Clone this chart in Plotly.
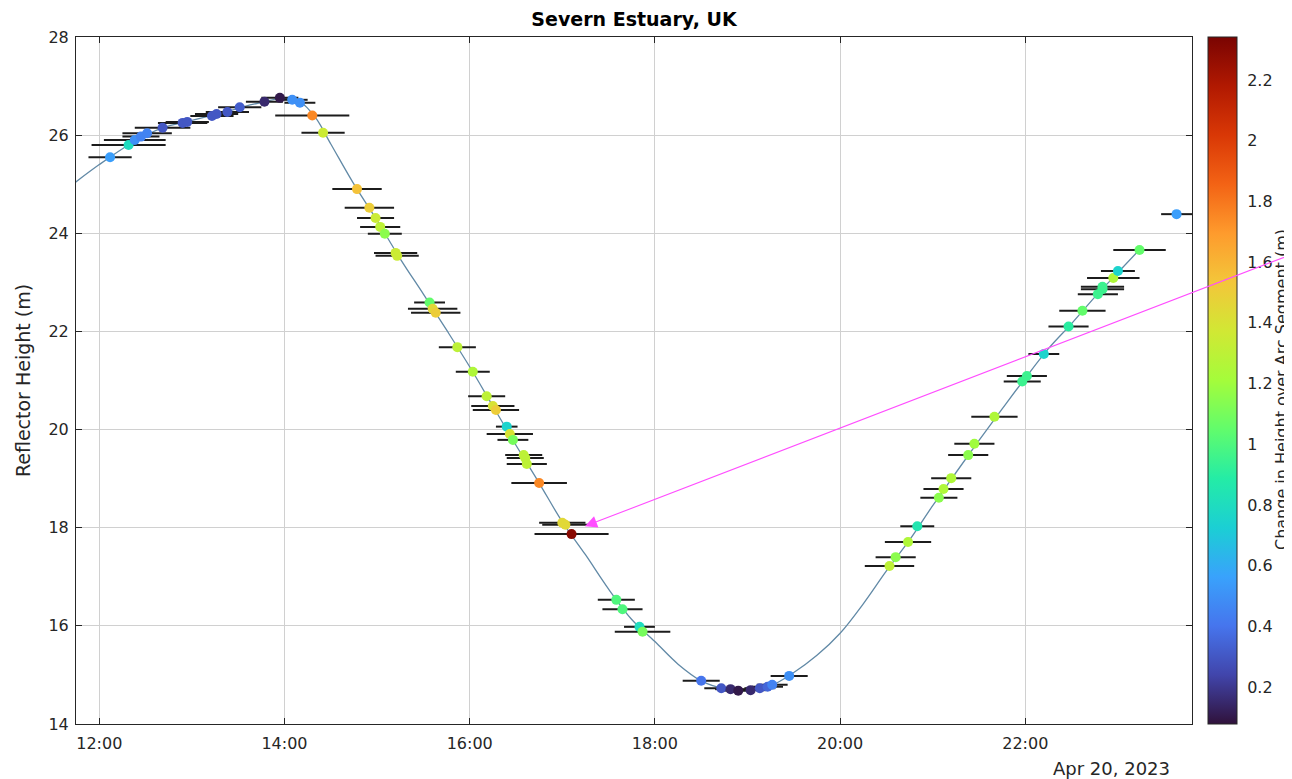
import plotly.graph_objects as go
import pandas as pd

DAY = "2023-04-20 "

# Tidal curve (reflector height, m)
curve_times = ["11:40", "12:00", "12:20", "12:40", "13:00", "13:20", "13:40", "14:00", "14:10",
               "14:20", "14:30", "14:45", "15:00", "15:15", "15:30", "15:45", "16:00", "16:15",
               "16:30", "16:45", "17:00", "17:15", "17:30", "17:45", "18:00", "18:15", "18:30",
               "18:45", "19:00", "19:15", "19:30", "19:45", "20:00", "20:15", "20:30", "20:45",
               "21:00", "21:15", "21:30", "21:45", "22:00", "22:15", "22:30", "22:45", "23:00",
               "23:15"]
curve_heights = [24.93, 25.40, 25.82, 26.14, 26.30, 26.46, 26.63, 26.75, 26.68,
                 26.36, 25.82, 25.00, 24.26, 23.48, 22.76, 22.03, 21.28, 20.48,
                 19.68, 18.91, 18.12, 17.45, 16.75, 16.13, 15.68, 15.22, 14.88,
                 14.72, 14.68, 14.78, 15.05, 15.40, 15.85, 16.45, 17.12, 17.75,
                 18.45, 19.12, 19.78, 20.42, 21.05, 21.65, 22.16, 22.70, 23.20,
                 23.70]

# Individual retrievals
obs_times = ["12:07", "12:19", "12:23", "12:27", "12:31", "12:41", "12:54", "12:57", "13:13",
             "13:16", "13:23", "13:31", "13:47", "13:57", "14:05", "14:10", "14:18", "14:25",
             "14:47", "14:55", "14:59", "15:02", "15:05", "15:12", "15:13", "15:34", "15:36",
             "15:38", "15:52", "16:02", "16:11", "16:15", "16:17", "16:24", "16:26", "16:28",
             "16:35", "16:36", "16:37", "16:45", "17:00", "17:02", "17:06", "17:35", "17:39",
             "17:50", "17:52", "18:30", "18:43", "18:49", "18:54", "19:02", "19:08", "19:13",
             "19:16", "19:27", "20:32", "20:36", "20:44", "20:50", "21:04", "21:07", "21:12",
             "21:23", "21:27", "21:40", "21:58", "22:01", "22:12", "22:28", "22:37", "22:47",
             "22:50", "22:50", "22:57", "23:00", "23:14", "23:38"]
obs_heights = [25.55, 25.80, 25.90, 25.97, 26.04, 26.15, 26.25, 26.27, 26.39,
               26.43, 26.47, 26.57, 26.68, 26.76, 26.72, 26.66, 26.40, 26.05,
               24.90, 24.52, 24.31, 24.13, 23.99, 23.60, 23.54, 22.59, 22.46,
               22.38, 21.68, 21.18, 20.68, 20.48, 20.40, 20.06, 19.91, 19.79,
               19.48, 19.42, 19.30, 18.91, 18.10, 18.06, 17.87, 16.53, 16.34,
               15.98, 15.88, 14.88, 14.73, 14.71, 14.68, 14.69, 14.73, 14.76,
               14.80, 14.98, 17.22, 17.40, 17.71, 18.03, 18.61, 18.79, 19.01,
               19.48, 19.71, 20.26, 20.98, 21.09, 21.54, 22.10, 22.42, 22.76,
               22.86, 22.91, 23.09, 23.23, 23.66, 24.39]
# Change in height over arc segment (m) -> colour
obs_dh = [0.55, 0.80, 0.50, 0.45, 0.45, 0.30, 0.30, 0.30, 0.30,
          0.30, 0.30, 0.32, 0.15, 0.10, 0.50, 0.50, 1.75, 1.35,
          1.55, 1.50, 1.35, 1.30, 1.15, 1.35, 1.35, 1.05, 1.45,
          1.50, 1.30, 1.25, 1.30, 1.40, 1.50, 0.75, 1.40, 1.10,
          1.30, 1.30, 1.30, 1.75, 1.45, 1.45, 2.30, 1.00, 1.00,
          0.80, 1.10, 0.40, 0.30, 0.15, 0.10, 0.15, 0.30, 0.35,
          0.45, 0.50, 1.30, 1.15, 1.25, 0.85, 1.15, 1.25, 1.25,
          1.15, 1.20, 1.25, 0.95, 0.95, 0.75, 0.90, 1.05, 0.95,
          0.95, 0.95, 1.25, 0.75, 1.05, 0.55]
# Half-length of the time window (minutes)
obs_err_min = [14, 24, 20, 12, 16, 18, 16, 14, 14,
               14, 14, 14, 12, 12, 10, 10, 24, 14,
               16, 16, 12, 13, 11, 14, 14, 10, 16,
               16, 12, 11, 12, 14, 15, 7, 15, 10,
               12, 12, 13, 18, 15, 15, 24, 12, 13,
               10, 18, 12, 11, 10, 10, 10, 10, 10,
               10, 12, 16, 13, 15, 11, 12, 13, 13,
               13, 13, 15, 12, 13, 10, 13, 15, 13,
               14, 14, 17, 11, 17, 10]

y_ticks = [14, 16, 18, 20, 22, 24, 26, 28]
x_tick_labels = ["12:00", "14:00", "16:00", "18:00", "20:00", "22:00"]
cb_ticks = [0.2, 0.4, 0.6, 0.8, 1.0, 1.2, 1.4, 1.6, 1.8, 2.0, 2.2]
cb_labels = ["0.2", "0.4", "0.6", "0.8", "1", "1.2", "1.4", "1.6", "1.8", "2", "2.2"]

FONT = "DejaVu Sans"
INK = "#262626"

# page offset of 8px (body margin) is compensated in the figure size / margins
W, H = 1284, 771
L, R, T, B = 68, 100, 29, 55
PW = W - L - R
PH = H - T - B

# horizontal time-window bars built from the data
bar_x, bar_y = [], []
for t, h, e in zip(obs_times, obs_heights, obs_err_min):
    c = pd.Timestamp(DAY + t)
    d = pd.Timedelta(minutes=e)
    bar_x += [c - d, c + d, None]
    bar_y += [h, h, None]

fig = go.Figure()

fig.add_trace(go.Scatter(
    x=[DAY + t for t in curve_times], y=curve_heights,
    mode="lines", line=dict(color="#6189a6", width=1.3, shape="spline"),
    hoverinfo="skip", showlegend=False))

fig.add_trace(go.Scatter(
    x=bar_x, y=bar_y, mode="lines", line=dict(color="#1c1c1c", width=2),
    hoverinfo="skip", showlegend=False))

fig.add_trace(go.Scatter(
    x=[DAY + t for t in obs_times], y=obs_heights,
    mode="markers",
    marker=dict(size=10, color=obs_dh, colorscale="Turbo", cmin=0.078, cmax=2.342,
                line=dict(width=0),
                colorbar=dict(x=1 + 16 / PW, xanchor="left", y=0.5, yanchor="middle",
                              len=1.0, lenmode="fraction", thickness=29,
                              outlinecolor=INK, outlinewidth=1,
                              tickvals=cb_ticks, ticktext=cb_labels,
                              ticks="outside", ticklen=7, tickcolor="rgba(0,0,0,0)",
                              tickfont=dict(family=FONT, size=16, color=INK),
                              xpad=0, ypad=0)),
    showlegend=False))

fig.update_layout(
    width=W, height=H,
    margin=dict(l=L, r=R, t=T, b=B, autoexpand=False),
    paper_bgcolor="white", plot_bgcolor="white",
    font=dict(family=FONT, color=INK),
    title=dict(text="<b>Severn Estuary, UK</b>", x=(L + PW / 2) / W, xanchor="center",
               y=1 - 11 / H, yanchor="middle", font=dict(family=FONT, size=19, color="black")),
    xaxis=dict(type="date",
               range=[DAY + "11:44:55", DAY + "23:48:00"],
               tickvals=[DAY + t for t in x_tick_labels], ticktext=x_tick_labels,
               showgrid=True, gridcolor="#d0d0d0", gridwidth=1,
               showline=True, linecolor=INK, linewidth=1, mirror="ticks",
               ticks="inside", ticklen=6, tickcolor=INK, automargin=False,
               ticklabelstandoff=5,
               tickfont=dict(family=FONT, size=16, color=INK), zeroline=False),
    yaxis=dict(range=[14, 28], tickvals=y_ticks,
               showgrid=True, gridcolor="#d0d0d0", gridwidth=1,
               showline=True, linecolor=INK, linewidth=1, mirror="ticks",
               ticks="inside", ticklen=6, tickcolor=INK, automargin=False,
               ticklabelstandoff=3,
               tickfont=dict(family=FONT, size=16, color=INK), zeroline=False,
               title=dict(text="Reflector Height (m)", font=dict(family=FONT, size=19, color=INK),
                          standoff=12)),
)

fig.add_annotation(text="Apr 20, 2023", xref="paper", yref="paper",
                   x=(1164 - L) / PW, y=-(760 - (T + PH)) / PH, xanchor="right", yanchor="middle",
                   showarrow=False, font=dict(family=FONT, size=18, color=INK))

fig.add_annotation(text="Change in Height over Arc Segment (m)", xref="paper", yref="paper",
                   x=(1273 - L) / PW, y=(T + PH - 382) / PH, xanchor="center", yanchor="middle",
                   textangle=-90, showarrow=False, font=dict(family=FONT, size=16, color=INK))

fig.add_annotation(x=DAY + "17:14:40", y=18.03, xref="x", yref="y",
                   ax=715, ay=-272, axref="pixel", ayref="pixel",
                   text="", showarrow=True, arrowhead=2, arrowsize=2.2, arrowwidth=1.1,
                   arrowcolor="#ff4dff", standoff=0)

fig.write_html("out.html")
